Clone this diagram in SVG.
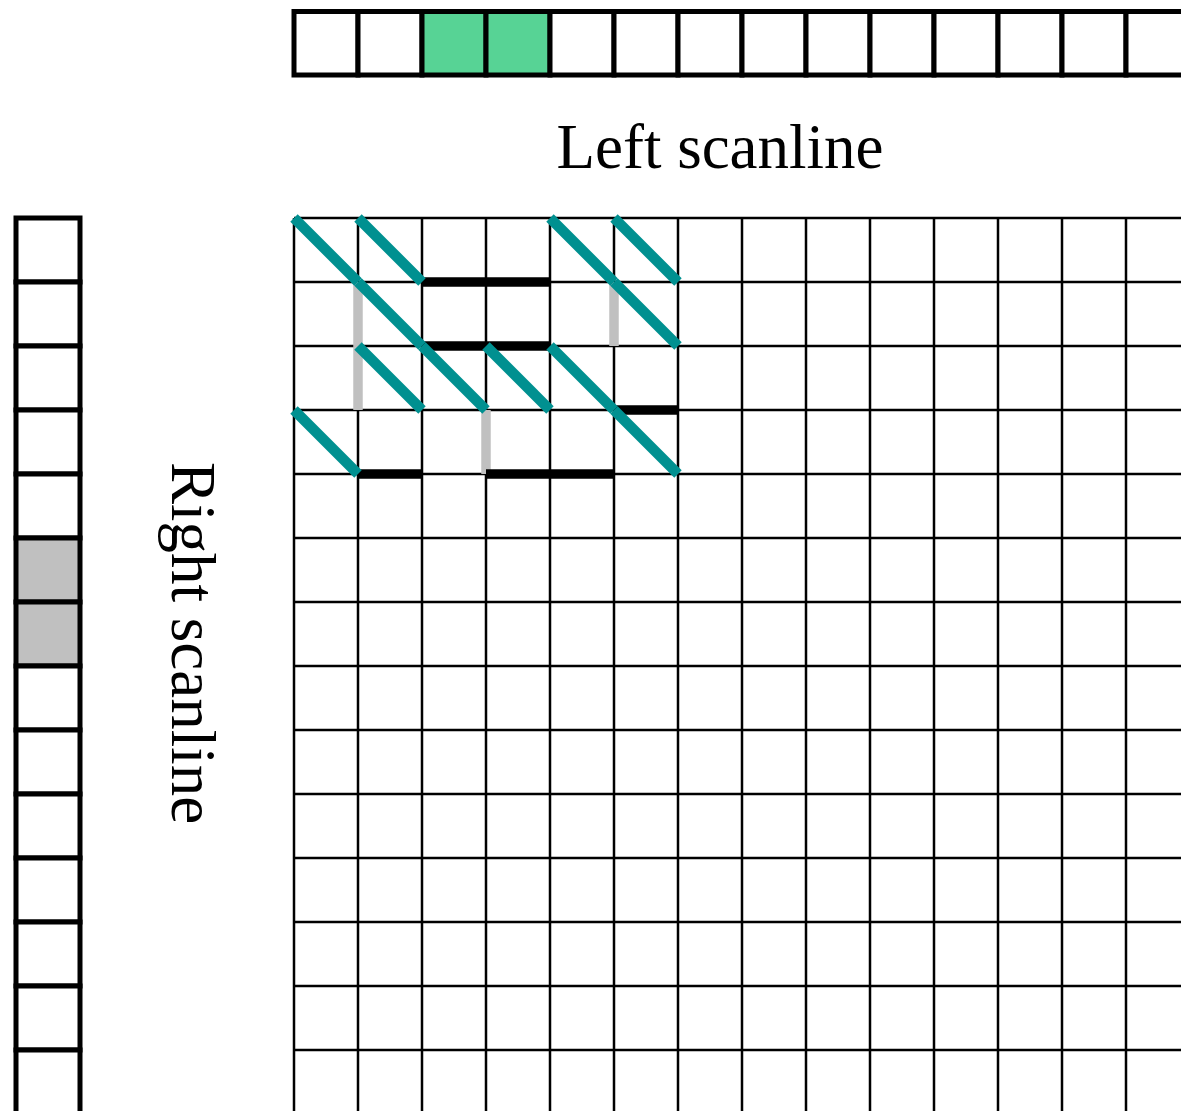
<svg xmlns="http://www.w3.org/2000/svg" width="1181" height="1111" viewBox="0 0 1181 1111">
<style>
.cell{fill:#ffffff;stroke:#000000;stroke-width:5}
.green{fill:#57d395}
.grey{fill:#c0c0c0}
.grid line{stroke:#000000;stroke-width:2.5}
.diag{stroke:#009090;stroke-width:10.5;stroke-linecap:butt}
.blk{stroke:#000000;stroke-width:9.5;stroke-linecap:butt}
.gry{stroke:#c0c0c0;stroke-width:9.5;stroke-linecap:butt}
.lbl{font-family:"Liberation Serif","Times New Roman",serif;font-size:63px;fill:#000000}
</style>
<rect width="1181" height="1111" fill="#ffffff"/>
<g id="left-scanline">
<rect class="cell" x="294" y="11.5" width="64" height="63.5"/>
<rect class="cell" x="358" y="11.5" width="64" height="63.5"/>
<rect class="cell green" x="422" y="11.5" width="64" height="63.5"/>
<rect class="cell green" x="486" y="11.5" width="64" height="63.5"/>
<rect class="cell" x="550" y="11.5" width="64" height="63.5"/>
<rect class="cell" x="614" y="11.5" width="64" height="63.5"/>
<rect class="cell" x="678" y="11.5" width="64" height="63.5"/>
<rect class="cell" x="742" y="11.5" width="64" height="63.5"/>
<rect class="cell" x="806" y="11.5" width="64" height="63.5"/>
<rect class="cell" x="870" y="11.5" width="64" height="63.5"/>
<rect class="cell" x="934" y="11.5" width="64" height="63.5"/>
<rect class="cell" x="998" y="11.5" width="64" height="63.5"/>
<rect class="cell" x="1062" y="11.5" width="64" height="63.5"/>
<rect class="cell" x="1126" y="11.5" width="64" height="63.5"/>
</g>
<g id="right-scanline">
<rect class="cell" x="16" y="218" width="64" height="64"/>
<rect class="cell" x="16" y="282" width="64" height="64"/>
<rect class="cell" x="16" y="346" width="64" height="64"/>
<rect class="cell" x="16" y="410" width="64" height="64"/>
<rect class="cell" x="16" y="474" width="64" height="64"/>
<rect class="cell grey" x="16" y="538" width="64" height="64"/>
<rect class="cell grey" x="16" y="602" width="64" height="64"/>
<rect class="cell" x="16" y="666" width="64" height="64"/>
<rect class="cell" x="16" y="730" width="64" height="64"/>
<rect class="cell" x="16" y="794" width="64" height="64"/>
<rect class="cell" x="16" y="858" width="64" height="64"/>
<rect class="cell" x="16" y="922" width="64" height="64"/>
<rect class="cell" x="16" y="986" width="64" height="64"/>
<rect class="cell" x="16" y="1050" width="64" height="64"/>
</g>
<g id="labels">
<text class="lbl" x="720" y="168" text-anchor="middle">Left scanline</text>
<text class="lbl" text-anchor="middle" transform="translate(172,643) rotate(90)">Right scanline</text>
</g>
<g id="grid" class="grid">
<line x1="294" y1="218" x2="294" y2="1111"/>
<line x1="358" y1="218" x2="358" y2="1111"/>
<line x1="422" y1="218" x2="422" y2="1111"/>
<line x1="486" y1="218" x2="486" y2="1111"/>
<line x1="550" y1="218" x2="550" y2="1111"/>
<line x1="614" y1="218" x2="614" y2="1111"/>
<line x1="678" y1="218" x2="678" y2="1111"/>
<line x1="742" y1="218" x2="742" y2="1111"/>
<line x1="806" y1="218" x2="806" y2="1111"/>
<line x1="870" y1="218" x2="870" y2="1111"/>
<line x1="934" y1="218" x2="934" y2="1111"/>
<line x1="998" y1="218" x2="998" y2="1111"/>
<line x1="1062" y1="218" x2="1062" y2="1111"/>
<line x1="1126" y1="218" x2="1126" y2="1111"/>
<line x1="294" y1="218" x2="1181" y2="218"/>
<line x1="294" y1="282" x2="1181" y2="282"/>
<line x1="294" y1="346" x2="1181" y2="346"/>
<line x1="294" y1="410" x2="1181" y2="410"/>
<line x1="294" y1="474" x2="1181" y2="474"/>
<line x1="294" y1="538" x2="1181" y2="538"/>
<line x1="294" y1="602" x2="1181" y2="602"/>
<line x1="294" y1="666" x2="1181" y2="666"/>
<line x1="294" y1="730" x2="1181" y2="730"/>
<line x1="294" y1="794" x2="1181" y2="794"/>
<line x1="294" y1="858" x2="1181" y2="858"/>
<line x1="294" y1="922" x2="1181" y2="922"/>
<line x1="294" y1="986" x2="1181" y2="986"/>
<line x1="294" y1="1050" x2="1181" y2="1050"/>
</g>
<g id="connectors">
<g id="vertical-moves">
<line class="gry" x1="358" y1="282" x2="358" y2="410"/>
<line class="gry" x1="614" y1="282" x2="614" y2="346"/>
<line class="gry" x1="486" y1="410" x2="486" y2="474"/>
</g>
<g id="horizontal-moves">
<line class="blk" x1="422" y1="282" x2="550" y2="282"/>
<line class="blk" x1="422" y1="346" x2="550" y2="346"/>
<line class="blk" x1="614" y1="410" x2="678" y2="410"/>
<line class="blk" x1="358" y1="474" x2="422" y2="474"/>
<line class="blk" x1="486" y1="474" x2="614" y2="474"/>
</g>
<g id="diagonal-moves">
<line class="diag" x1="294" y1="218" x2="358" y2="282"/>
<line class="diag" x1="358" y1="218" x2="422" y2="282"/>
<line class="diag" x1="550" y1="218" x2="614" y2="282"/>
<line class="diag" x1="614" y1="218" x2="678" y2="282"/>
<line class="diag" x1="358" y1="282" x2="422" y2="346"/>
<line class="diag" x1="614" y1="282" x2="678" y2="346"/>
<line class="diag" x1="358" y1="346" x2="422" y2="410"/>
<line class="diag" x1="422" y1="346" x2="486" y2="410"/>
<line class="diag" x1="486" y1="346" x2="550" y2="410"/>
<line class="diag" x1="550" y1="346" x2="614" y2="410"/>
<line class="diag" x1="294" y1="410" x2="358" y2="474"/>
<line class="diag" x1="614" y1="410" x2="678" y2="474"/>
</g>
</g>
</svg>
